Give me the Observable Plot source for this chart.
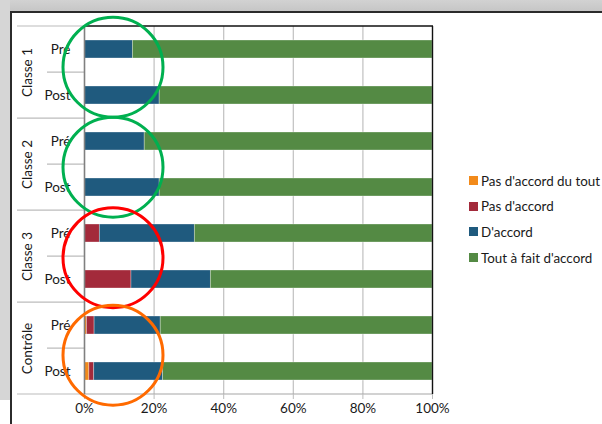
<!DOCTYPE html>
<html><head><meta charset="utf-8">
<script src="https://cdn.jsdelivr.net/npm/d3@7"></script>
<script src="https://cdn.jsdelivr.net/npm/@observablehq/plot@0.6"></script>
<style>
body{margin:0;background:#fff;font-family:Lato,"Open Sans",sans-serif;}
#wrap{position:relative;width:602px;height:424px;overflow:hidden;background:#fff;}
.bg-top{position:absolute;left:0;top:0;width:602px;height:11px;background:linear-gradient(#d2d2d2,#c6c6c6);}
.bg-left{position:absolute;left:0;top:0;width:10px;height:400px;background:#d6d6d6;}
.line-top{position:absolute;left:10px;top:11px;width:592px;height:2px;background:#2b2b2b;}
.line-left{position:absolute;left:10px;top:11px;width:2px;height:413px;background:#2b2b2b;}
#chart{position:absolute;left:0;top:0;}
#legend{position:absolute;left:469px;top:168px;font-size:13.4px;color:#1a1a1a;}
.item{display:flex;align-items:center;height:25.6px;}
.sw{width:9px;height:9px;margin-right:3px;flex:none;}
</style>
</head><body>
<div id="wrap">
  <div class="bg-top"></div><div class="bg-left"></div>
  <div class="line-top"></div><div class="line-left"></div>
  <div id="chart"></div>
  <div id="legend"></div>
</div>
<script>
const groups = ["Classe 1", "Classe 2", "Classe 3", "Contrôle"];
const phases = ["Pré", "Post"];
const answers = ["Pas d'accord du tout", "Pas d'accord", "D'accord", "Tout à fait d'accord"];
const colors = ["#F28A1A", "#A32A3B", "#1F5A7E", "#548A44"];
// one value per row: Classe1 Pré, Classe1 Post, Classe2 Pré, Classe2 Post, Classe3 Pré, Classe3 Post, Contrôle Pré, Contrôle Post
const pasDuTout = [0, 0, 0, 0, 0, 0, 0.7, 1.4];
const pasDaccord = [0, 0, 0, 0, 4.4, 13.5, 2.2, 1.4];
const daccord = [13.9, 21.6, 17.3, 21.6, 27.3, 22.8, 19.0, 19.8];
const toutAFait = [86.1, 78.4, 82.7, 78.4, 68.3, 63.7, 78.1, 77.4];
const xTicks = [0, 20, 40, 60, 80, 100];
const circleColors = ["#00B050", "#00B050", "#FF0000", "#FF6A00"];

const series = [pasDuTout, pasDaccord, daccord, toutAFait];
const rows = groups.flatMap(g => phases.map(p => ({group: g, phase: p, key: g + " · " + p})));
const keys = rows.map(r => r.key);
const segs = [];
rows.forEach((r, i) => answers.forEach((a, j) => {
  if (series[j][i] > 0) segs.push({key: r.key, answer: a, value: series[j][i]});
}));

function decorations(index, scales, values, dims) {
  const {x, y} = scales;
  const g = d3.create("svg:g");
  const x0 = x(0), x1 = x(100);
  const step = y(keys[1]) - y(keys[0]);
  const bw = step * 0.4;
  const top = dims.marginTop, bottom = dims.height - dims.marginBottom;
  for (let i = 0; i <= keys.length; i++) {
    const pos = i === 0 ? top : i === keys.length ? bottom : (y(keys[i - 1]) + bw + y(keys[i])) / 2;
    const start = i % 2 === 0 ? x0 - 67 : x0 - 37;
    g.append("line").attr("x1", start).attr("x2", x0).attr("y1", pos).attr("y2", pos)
      .attr("stroke", "#bcbcbc").attr("stroke-width", 1.2);
  }
  g.append("line").attr("x1", x0).attr("x2", x1).attr("y1", bottom).attr("y2", bottom)
    .attr("stroke", "#a6a6a6").attr("stroke-width", 1.2);
  g.append("line").attr("x1", x0).attr("x2", x1 + 1).attr("y1", top).attr("y2", top)
    .attr("stroke", "#111").attr("stroke-width", 1.4);
  return g.node();
}

function circles(index, scales) {
  const {x, y} = scales;
  const g = d3.create("svg:g");
  const step = y(keys[1]) - y(keys[0]);
  const bw = step * 0.4;
  const shift = [-5, 3, 1.5, 7];
  groups.forEach((grp, i) => {
    const cy = y(grp + " · Pré") + bw / 2 + step / 2 + shift[i];
    g.append("circle").attr("cx", x(0) + 29).attr("cy", cy).attr("r", 50)
      .attr("fill", "none").attr("stroke", circleColors[i]).attr("stroke-width", 3);
  });
  return g.node();
}

const chart = Plot.plot({
  width: 602, height: 424,
  marginLeft: 84, marginRight: 170, marginTop: 26, marginBottom: 30,
  style: {background: "transparent", fontFamily: "Lato, 'Open Sans', sans-serif", fontSize: "13.5px", color: "#1a1a1a", overflow: "visible"},
  x: {domain: [0, 100], axis: null, label: null},
  y: {domain: keys, paddingInner: 0.6, paddingOuter: 0.3, axis: null, label: null},
  color: {domain: answers, range: colors},
  marks: [
    Plot.ruleX(xTicks.slice(1, -1), {stroke: "#c0c0c0", strokeWidth: 1.2}),
    Plot.barX(segs, {y: "key", x: "value", fill: "answer", stroke: "#ffffff", strokeOpacity: 0.45, strokeWidth: 0.7, order: answers}),
    decorations,
    Plot.ruleX([0], {stroke: "#808080", strokeWidth: 1.6}),
    Plot.ruleX([100], {stroke: "#111", strokeWidth: 1.4}),
    Plot.axisX({ticks: xTicks, tickFormat: d => d + "%", tickSize: 5, tickPadding: 4, stroke: "#bcbcbc", fill: "#1a1a1a", label: null, fontSize: 13.5}),
    Plot.text(rows, {x: 0, y: "key", text: "phase", dx: -14, textAnchor: "end", fill: "#1a1a1a", fontSize: 13.5}),
    Plot.text(groups, {x: 0, y: g => g + " · Pré", text: d => d, dx: -57, dy: 23, rotate: -90, fill: "#1a1a1a", fontSize: 13.5}),
    circles
  ]
});
document.getElementById("chart").append(chart);

const legend = d3.select("#legend");
answers.forEach((a, i) => {
  const it = legend.append("div").attr("class", "item");
  it.append("div").attr("class", "sw").style("background", colors[i]);
  it.append("span").text(a);
});
</script>
</body></html>
